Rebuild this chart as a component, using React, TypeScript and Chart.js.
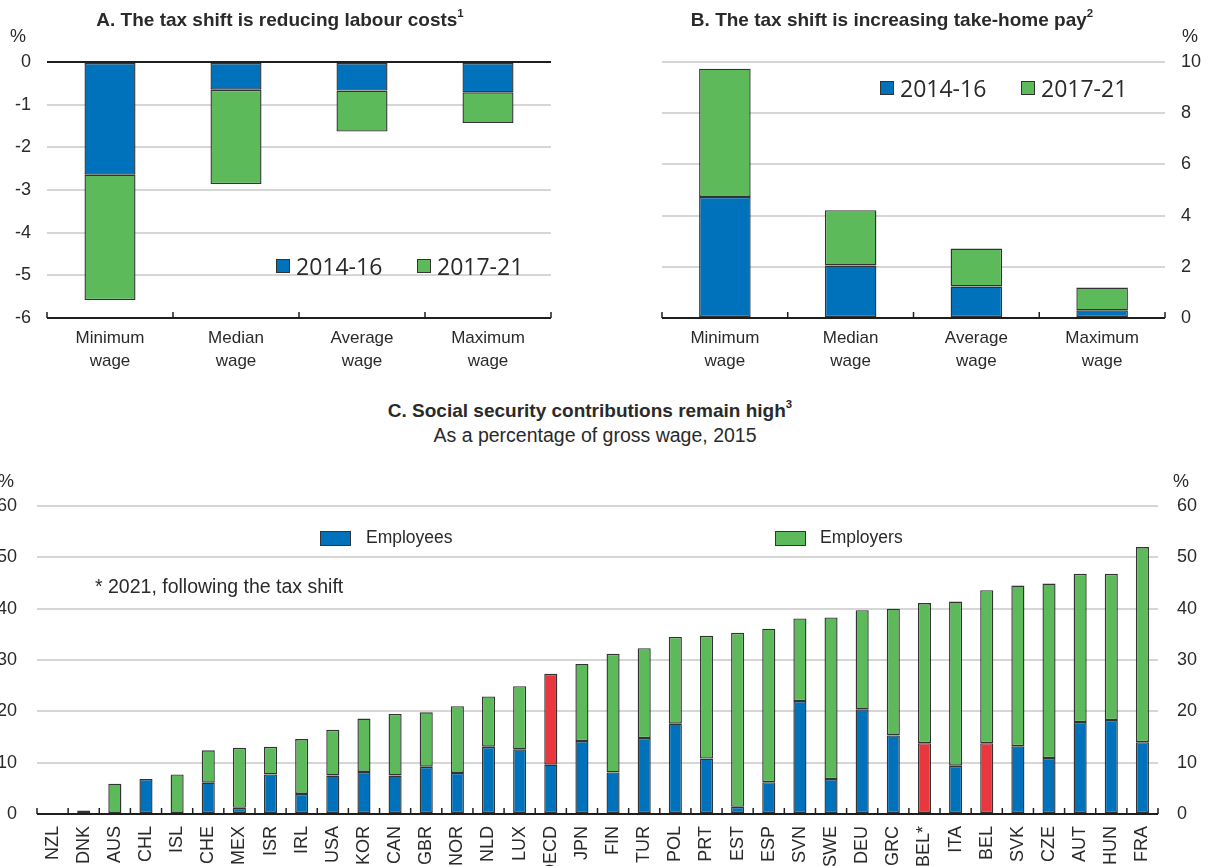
import React, { useEffect, useRef } from 'react';
import { Chart, registerables } from 'chart.js';

Chart.register(...registerables);

// ---------- DATA ----------
const wageCategories = [['Minimum', 'wage'], ['Median', 'wage'], ['Average', 'wage'], ['Maximum', 'wage']];
const periodLabels = ['2014-16', '2017-21'];
const labourCost1416 = [-2.64, -0.65, -0.67, -0.71];
const labourCost1721 = [-2.94, -2.21, -0.96, -0.72];
const takeHome1416 = [4.73, 2.05, 1.23, 0.3];
const takeHome1721 = [5.01, 2.16, 1.48, 0.89];

const countries = ['NZL', 'DNK', 'AUS', 'CHL', 'ISL', 'CHE', 'MEX', 'ISR', 'IRL', 'USA', 'KOR', 'CAN', 'GBR', 'NOR', 'NLD', 'LUX', 'OECD', 'JPN', 'FIN', 'TUR', 'POL', 'PRT', 'EST', 'ESP', 'SVN', 'SWE', 'DEU', 'GRC', 'BEL*', 'ITA', 'BEL', 'SVK', 'CZE', 'AUT', 'HUN', 'FRA'];
const employees = [0, 0, 0, 6.8, 0.2, 6.1, 1.2, 7.7, 3.9, 7.5, 8.2, 7.5, 9.2, 8.0, 13.1, 12.6, 9.6, 14.2, 8.1, 14.8, 17.6, 10.8, 1.4, 6.2, 22.0, 6.8, 20.4, 15.3, 13.8, 9.4, 13.8, 13.2, 10.9, 17.9, 18.3, 14.0];
const employers = [0, 0.7, 5.9, 0, 7.5, 6.3, 11.7, 5.4, 10.7, 8.9, 10.4, 12.0, 10.6, 13.0, 9.8, 12.3, 17.7, 15.0, 23.1, 17.5, 16.9, 23.9, 33.9, 29.9, 16.1, 31.5, 19.3, 24.7, 27.3, 32.0, 29.8, 31.3, 34.0, 28.9, 28.5, 38.0];
const seriesLabelsC = ['Employees', 'Employers'];
const highlightEmployees = ['BEL*', 'BEL'];
const highlightEmployers = ['OECD'];

// ---------- STYLE ----------
const BLUE = '#0072BB';
const GREEN = '#5DBA5B';
const RED = '#E8383D';
const EDGE = '#333333';
const GRID = '#d6d6d6';
const AXIS = '#1e1e1e';
const TEXT = '#2a2a2a';
const FONT = "'Liberation Sans', Arial, Helvetica, sans-serif";
const LEGFONT = "'Open Sans', 'Noto Sans', sans-serif";

const upTicks = {
  id: 'upTicks',
  afterDatasetsDraw(chart: any) {
    const x = chart.scales.x;
    const ctx = chart.ctx;
    const n = chart.data.labels.length;
    const bottom = chart.chartArea.bottom;
    ctx.save();
    ctx.strokeStyle = AXIS;
    ctx.lineWidth = 1.5;
    for (let i = 0; i <= n; i++) {
      const px = i === 0 ? x.left : i === n ? x.right : (x.getPixelForValue(i - 1) + x.getPixelForValue(i)) / 2;
      ctx.beginPath();
      ctx.moveTo(px, bottom);
      ctx.lineTo(px, bottom - 6);
      ctx.stroke();
    }
    ctx.beginPath();
    ctx.lineWidth = 2;
    ctx.moveTo(x.left, bottom);
    ctx.lineTo(x.right, bottom);
    ctx.stroke();
    ctx.restore();
  },
};

function ChartBox({ left, top, width, height, config }: any) {
  const ref = useRef<HTMLCanvasElement>(null);
  useEffect(() => {
    const chart = new Chart(ref.current as HTMLCanvasElement, config);
    return () => chart.destroy();
  }, []);
  return (
    <div style={{ position: 'absolute', left, top, width, height }}>
      <canvas ref={ref} width={width} height={height} style={{ width, height, display: 'block' }} />
    </div>
  );
}

const barDs = (label: string, data: number[], color: any, pct: number) => ({
  label,
  data,
  backgroundColor: color,
  borderColor: EDGE,
  borderWidth: 1.4,
  borderSkipped: false,
  categoryPercentage: 1,
  barPercentage: pct,
});

const tickFont = { family: FONT, size: 17 };
const yFont = { family: FONT, size: 18 };

const configA: any = {
  type: 'bar',
  data: {
    labels: wageCategories,
    datasets: [barDs(periodLabels[0], labourCost1416, BLUE, 0.405), barDs(periodLabels[1], labourCost1721, GREEN, 0.405)],
  },
  options: {
    animation: false,
    responsive: false,
    devicePixelRatio: 1,
    layout: { padding: { left: 0, top: 62, right: 49, bottom: 0 } },
    plugins: { legend: { display: false }, tooltip: { enabled: false } },
    scales: {
      x: {
        stacked: true,
        grid: { display: false },
        border: { display: false },
        ticks: { color: TEXT, font: { ...tickFont, lineHeight: 1.35 }, padding: 1 },
        afterFit: (s: any) => { s.height = 72; },
      },
      y: {
        stacked: true,
        min: -6,
        max: 0,
        ticks: { stepSize: 1, color: TEXT, font: yFont, padding: 16 },
        grid: {
          drawTicks: false,
          color: (c: any) => (c.tick && c.tick.value === 0 ? AXIS : c.tick && c.tick.value === -6 ? 'rgba(0,0,0,0)' : GRID),
          lineWidth: 2,
        },
        border: { display: false },
        afterFit: (s: any) => { s.width = 47; },
      },
    },
  },
  plugins: [upTicks],
};

const configB: any = {
  type: 'bar',
  data: {
    labels: wageCategories,
    datasets: [barDs(periodLabels[0], takeHome1416, BLUE, 0.41), barDs(periodLabels[1], takeHome1721, GREEN, 0.41)],
  },
  options: {
    animation: false,
    responsive: false,
    devicePixelRatio: 1,
    layout: { padding: { left: 62, top: 62, right: 0, bottom: 0 } },
    plugins: { legend: { display: false }, tooltip: { enabled: false } },
    scales: {
      x: {
        stacked: true,
        grid: { display: false },
        border: { display: false },
        ticks: { color: TEXT, font: { ...tickFont, lineHeight: 1.35 }, padding: 1 },
        afterFit: (s: any) => { s.height = 72; },
      },
      y: {
        position: 'right',
        stacked: true,
        min: 0,
        max: 10,
        ticks: { stepSize: 2, color: TEXT, font: yFont, padding: 16 },
        grid: {
          drawTicks: false,
          color: (c: any) => (c.tick && c.tick.value === 0 ? 'rgba(0,0,0,0)' : GRID),
          lineWidth: 2,
        },
        border: { display: false },
        afterFit: (s: any) => { s.width = 46; },
      },
    },
  },
  plugins: [upTicks],
};

const employeeColors = countries.map((c) => (highlightEmployees.includes(c) ? RED : BLUE));
const employerColors = countries.map((c) => (highlightEmployers.includes(c) ? RED : GREEN));

const configC: any = {
  type: 'bar',
  data: {
    labels: countries,
    datasets: [barDs(seriesLabelsC[0], employees, employeeColors, 0.42), barDs(seriesLabelsC[1], employers, employerColors, 0.42)],
  },
  options: {
    animation: false,
    responsive: false,
    devicePixelRatio: 1,
    layout: { padding: { left: 0, top: 46, right: 0, bottom: 0 } },
    plugins: { legend: { display: false }, tooltip: { enabled: false } },
    scales: {
      x: {
        stacked: true,
        grid: { display: false },
        border: { display: false },
        ticks: { color: TEXT, font: { family: FONT, size: 18 }, padding: 4, autoSkip: false, maxRotation: 90, minRotation: 90 },
        afterFit: (s: any) => { s.height = 52; },
      },
      y: {
        stacked: true,
        min: 0,
        max: 60,
        ticks: { stepSize: 10, color: TEXT, font: yFont, padding: 20 },
        grid: {
          drawTicks: false,
          color: (c: any) => (c.tick && c.tick.value === 0 ? 'rgba(0,0,0,0)' : GRID),
          lineWidth: 2,
        },
        border: { display: false },
        afterFit: (s: any) => { s.width = 37; },
      },
      y2: {
        position: 'right',
        min: 0,
        max: 60,
        ticks: { stepSize: 10, color: TEXT, font: yFont, padding: 19 },
        grid: { display: false, drawTicks: false },
        border: { display: false },
        afterFit: (s: any) => { s.width = 53; },
      },
    },
  },
  plugins: [upTicks],
};

const abs = (left: number, top: number, extra: any = {}) => ({
  position: 'absolute' as const,
  left,
  top,
  whiteSpace: 'nowrap' as const,
  fontFamily: FONT,
  color: TEXT,
  ...extra,
});

const centered = (x: number, y: number, size: number, bold = false, family = FONT) =>
  abs(x, y, { transform: 'translate(-50%, -50%)', fontSize: size, fontWeight: bold ? 'bold' : 'normal', fontFamily: family, lineHeight: 1 });
const leftMid = (x: number, y: number, size: number, family = FONT) =>
  abs(x, y, { transform: 'translateY(-50%)', fontSize: size, fontFamily: family, lineHeight: 1 });

const box = (left: number, top: number, w: number, h: number, color: string) => ({
  position: 'absolute' as const,
  left,
  top,
  width: w,
  height: h,
  boxSizing: 'border-box' as const,
  background: color,
  border: `1px solid ${EDGE}`,
});

const sup = { fontSize: '0.6em', verticalAlign: 'top', position: 'relative' as const, top: -2 };

export default function App() {
  return (
    <div style={{ position: 'absolute', left: 0, top: 0, width: 1211, height: 866, background: '#fff', overflow: 'hidden' }}>
      <ChartBox left={0} top={0} width={600} height={390} config={configA} />
      <ChartBox left={600} top={0} width={611} height={390} config={configB} />
      <ChartBox left={0} top={460} width={1211} height={406} config={configC} />

      {/* Panel A texts */}
      <div style={centered(280, 19, 19, true)}>A. The tax shift is reducing labour costs<span style={sup}>1</span></div>
      <div style={centered(18, 36, 18)}>%</div>
      <div style={box(276, 259, 14, 14, BLUE)} />
      <div style={leftMid(296, 266, 23, LEGFONT)}>{periodLabels[0]}</div>
      <div style={box(417, 259, 14, 14, GREEN)} />
      <div style={leftMid(437, 266, 23, LEGFONT)}>{periodLabels[1]}</div>

      {/* Panel B texts */}
      <div style={centered(892, 19, 19, true)}>B. The tax shift is increasing take-home pay<span style={sup}>2</span></div>
      <div style={centered(1190, 36, 18)}>%</div>
      <div style={box(880, 81, 14, 14, BLUE)} />
      <div style={leftMid(900, 88, 23, LEGFONT)}>{periodLabels[0]}</div>
      <div style={box(1021, 81, 14, 14, GREEN)} />
      <div style={leftMid(1041, 88, 23, LEGFONT)}>{periodLabels[1]}</div>

      {/* Panel C texts */}
      <div style={centered(590, 410, 19, true)}>C. Social security contributions remain high<span style={sup}>3</span></div>
      <div style={centered(595, 436, 19.5)}>As a percentage of gross wage, 2015</div>
      <div style={centered(6, 481, 18)}>%</div>
      <div style={centered(1181, 481, 18)}>%</div>
      <div style={box(320, 531, 31, 15, BLUE)} />
      <div style={leftMid(366, 538, 17.5)}>{seriesLabelsC[0]}</div>
      <div style={box(775, 531, 31, 15, GREEN)} />
      <div style={leftMid(820, 538, 17.5)}>{seriesLabelsC[1]}</div>
      <div style={leftMid(95, 587, 19.5)}>* 2021, following the tax shift</div>
    </div>
  );
}
